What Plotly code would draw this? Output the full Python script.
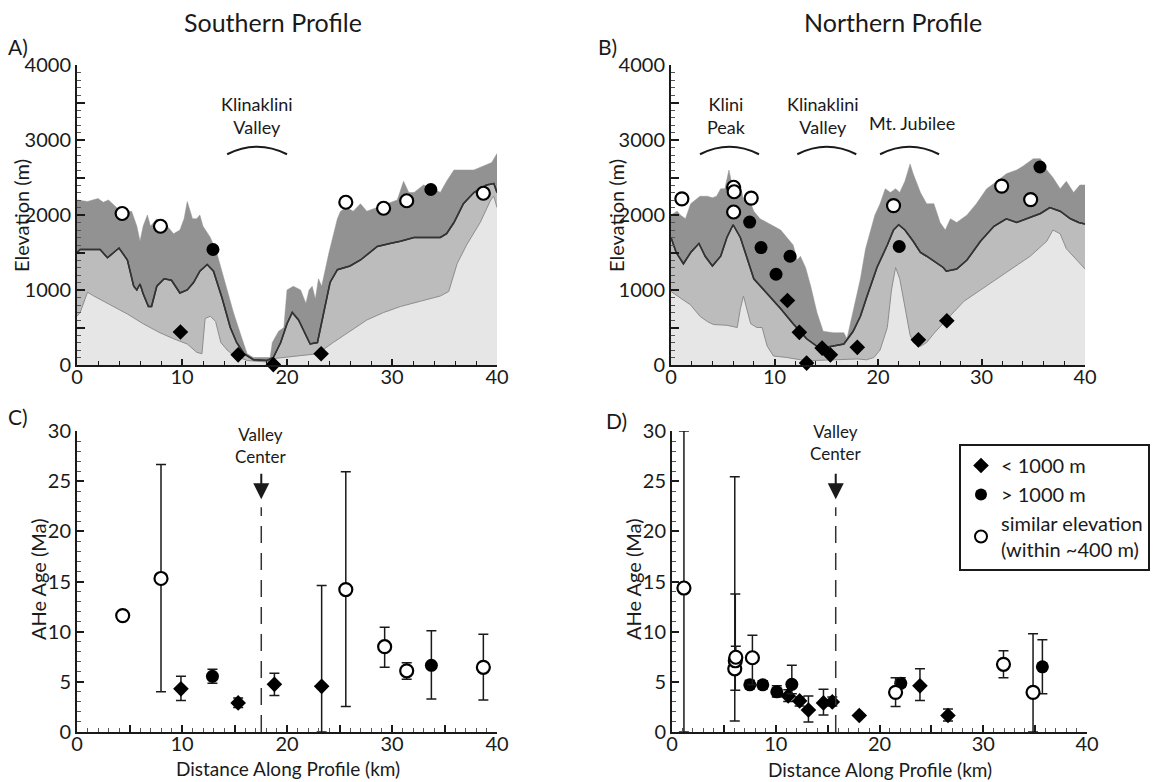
import plotly.graph_objects as go

W, H = 1168, 782
FONT = "Lato"
INK = "#1a1a1a"

# ---------------- Panel A (Southern profile) topography ----------------
A_max_x = [0, 1, 2, 2.5, 3, 3.6, 4.3, 5.2, 5.7, 6.0, 6.3, 6.7, 7.0, 7.6, 7.9, 8.6, 9.2, 9.8, 10.2, 10.5,
           11.0, 11.4, 11.7, 12.0, 12.7, 13.3, 14.3, 14.9, 15.6, 16.2, 16.8, 18.4, 18.6, 19.2, 19.7, 20.0,
           20.6, 21.3, 21.8, 22.1, 22.4, 22.7, 23.0, 23.3, 24.0, 24.8, 25.1, 25.7, 26.3, 27.0, 27.6, 28.6,
           29.5, 30.5, 31.1, 31.6, 32.1, 33.0, 34.0, 34.6, 35.2, 35.9, 37.8, 38.7, 39.5, 40]
A_max_y = [2200, 2180, 2220, 2170, 2200, 2120, 2030, 2050, 1850, 1650, 1850, 2000, 1850, 1950, 1800, 1850,
           1750, 1800, 1950, 2180, 1950, 1950, 2000, 1850, 1700, 1500, 1000, 700, 400, 150, 100, 100, 300,
           450, 500, 1000, 1050, 1000, 820, 1000, 1050, 880, 1150, 1050, 1500, 1950, 2050, 2100, 2050, 2150,
           2050, 2100, 2150, 2200, 2450, 2300, 2300, 2400, 2350, 2300, 2450, 2600, 2600, 2650, 2700, 2820]

A_mean_x = [0, 0.3, 2.2, 2.9, 3.5, 4.0, 4.8, 5.4, 5.7, 6.0, 6.3, 6.8, 7.1, 7.6, 8.3, 9.0, 9.8, 10.5, 11.1,
            11.7, 12.4, 13.0, 13.8, 14.6, 15.2, 15.9, 16.8, 18.1, 18.7, 19.4, 20.0, 20.5, 21.1, 21.8, 22.2,
            22.9, 23.5, 24.1, 24.8, 26.0, 27.0, 27.9, 28.6, 29.8, 30.8, 32.1, 33.3, 34.6, 35.2, 35.9, 36.8,
            37.8, 39.0, 39.7, 40]
A_mean_y = [1500, 1540, 1540, 1430, 1500, 1560, 1400, 1050, 1000, 1080, 950, 780, 780, 1050, 1150, 1130,
            960, 1000, 1100, 1250, 1340, 1250, 900, 500, 300, 150, 70, 60, 100, 300, 550, 700, 600, 400, 280,
            300, 700, 1100, 1270, 1320, 1400, 1500, 1580, 1620, 1650, 1700, 1700, 1700, 1750, 1900, 2150,
            2300, 2400, 2420, 2300]

A_min_x = [0, 0.3, 1.0, 1.6, 3.2, 4.8, 6.3, 7.9, 9.2, 10.5, 11.4, 11.9, 12.2, 12.7, 13.2, 13.7, 14.3, 14.9,
           16.2, 18.1, 19.0, 19.7, 21.3, 22.9, 24.4, 26.0, 27.6, 29.2, 30.8, 32.7, 34.6, 35.4, 36.2, 37.1,
           38.4, 39.4, 39.7, 40]
A_min_y = [650, 700, 970, 920, 800, 680, 550, 430, 350, 280, 170, 150, 620, 650, 580, 300, 200, 130, 60,
           40, 90, 100, 120, 150, 300, 450, 600, 700, 780, 850, 920, 980, 1350, 1600, 1900, 2200, 2250, 2100]

A_open_x = [4.3, 7.95, 25.6, 29.2, 31.4, 38.7]
A_open_y = [2020, 1850, 2170, 2090, 2190, 2290]
A_fill_x = [12.95, 33.7]
A_fill_y = [1540, 2340]
A_dia_x = [9.85, 15.35, 18.7, 23.25]
A_dia_y = [440, 135, 5, 150]

# ---------------- Panel B (Northern profile) topography ----------------
B_max_x = [0, 0.6, 0.9, 1.4, 1.9, 2.4, 2.8, 3.5, 4.0, 4.4, 4.8, 5.2, 5.6, 5.9, 6.4, 6.7, 7.0, 7.3, 7.7, 8.0,
           8.6, 9.3, 9.9, 10.6, 11.2, 11.8, 12.2, 12.5, 13.0, 13.5, 14.1, 14.7, 15.7, 16.7, 17.0, 17.6, 18.3,
           18.8, 19.2, 19.7, 20.2, 20.7, 21.2, 21.7, 22.1, 22.6, 23.1, 23.4, 24.1, 24.7, 25.4, 26.0, 26.5,
           27.0, 27.6, 28.6, 29.5, 30.5, 31.5, 32.4, 33.4, 34.0, 35.0, 35.7, 36.3, 36.9, 37.6, 38.2, 38.9,
           39.5, 40]
B_max_y = [2000, 2050, 2000, 1950, 2150, 2200, 2250, 2250, 2230, 2250, 2350, 2350, 2600, 2400, 2300, 2400,
           2200, 2300, 2150, 2050, 1950, 1900, 1850, 1800, 1700, 1600, 1400, 1450, 1300, 1050, 700, 450, 430,
           430, 350, 700, 1150, 1550, 1750, 2000, 2150, 2350, 2300, 2350, 2300, 2450, 2680, 2550, 2300, 2150,
           2150, 1900, 1800, 1950, 1900, 2000, 2150, 2350, 2450, 2550, 2600, 2650, 2750, 2750, 2600, 2500,
           2350, 2450, 2300, 2400, 2400]

B_mean_x = [0, 0.5, 1.2, 1.9, 2.7, 3.3, 4.0, 4.8, 5.4, 6.0, 6.7, 7.3, 8.0, 9.3, 10.6, 11.8, 13.1, 14.4, 15.7,
            16.7, 17.6, 18.3, 18.9, 19.9, 20.9, 21.5, 22.0, 22.6, 23.4, 24.1, 24.7, 25.4, 26.3, 26.6, 27.6,
            28.6, 29.9, 31.2, 32.4, 33.4, 34.4, 35.7, 36.6, 37.6, 38.6, 39.4, 40]
B_mean_y = [1700, 1500, 1350, 1500, 1620, 1450, 1320, 1450, 1700, 1870, 1700, 1450, 1150, 950, 750, 550, 350,
            220, 250, 280, 450, 650, 900, 1300, 1600, 1800, 1870, 1800, 1650, 1500, 1450, 1380, 1300, 1250,
            1280, 1400, 1650, 1850, 1950, 1900, 1950, 2020, 2100, 2050, 1950, 1900, 1880]

B_min_x = [0, 0.9, 1.9, 2.8, 3.5, 4.1, 5.4, 6.4, 6.7, 7.0, 7.3, 7.7, 8.3, 8.8, 9.3, 9.9, 11.2, 12.5, 13.8,
           15.4, 17.0, 18.0, 18.9, 19.6, 20.2, 20.9, 21.3, 21.7, 22.1, 22.6, 23.1, 23.4, 24.1, 24.7, 25.4,
           26.6, 28.3, 29.9, 31.5, 33.1, 34.7, 36.3, 36.9, 37.6, 38.2, 39.2, 40]
B_min_y = [980, 900, 800, 650, 580, 540, 530, 500, 750, 920, 750, 550, 500, 500, 250, 120, 100, 70, 60, 70,
           70, 80, 70, 100, 200, 500, 1000, 1300, 1150, 800, 400, 300, 250, 300, 420, 600, 850, 1000, 1150,
           1300, 1450, 1650, 1800, 1750, 1550, 1400, 1280]

B_open_x = [1.05, 6.05, 6.1, 6.05, 7.75, 21.5, 31.95, 34.75]
B_open_y = [2215, 2370, 2310, 2040, 2225, 2125, 2385, 2205]
B_fill_x = [7.6, 8.7, 10.15, 11.5, 22.05, 35.65]
B_fill_y = [1905, 1565, 1210, 1450, 1580, 2640]
B_dia_x = [11.25, 12.4, 13.1, 14.6, 15.4, 18.0, 23.9, 26.65]
B_dia_y = [860, 435, 25, 225, 135, 235, 335, 590]

# ---------------- Panel C (Southern AHe ages) ----------------
C_open_x = [4.35, 8.0, 25.6, 29.3, 31.4, 38.7]
C_open_age = [11.6, 15.3, 14.2, 8.5, 6.1, 6.45]
C_open_lo = [11.6, 4.0, 2.55, 6.45, 5.25, 3.2]
C_open_hi = [11.6, 26.65, 25.95, 10.45, 6.9, 9.75]
C_fill_x = [12.9, 33.75]
C_fill_age = [5.55, 6.65]
C_fill_lo = [4.85, 3.3]
C_fill_hi = [6.25, 10.1]
C_dia_x = [9.9, 15.35, 18.8, 23.3]
C_dia_age = [4.3, 2.9, 4.75, 4.55]
C_dia_lo = [3.15, 2.45, 3.65, 0.0]
C_dia_hi = [5.55, 3.4, 5.85, 14.6]

# ---------------- Panel D (Northern AHe ages) ----------------
D_open_x = [1.15, 6.05, 6.1, 6.15, 7.75, 21.55, 31.95, 34.8]
D_open_age = [14.35, 6.3, 7.1, 7.45, 7.4, 3.95, 6.75, 3.95]
D_open_lo = [0.0, 1.1, 4.15, 6.5, 4.7, 2.55, 5.4, 0.0]
D_open_hi = [30.0, 25.45, 13.75, 8.55, 9.65, 5.4, 8.1, 9.8]
D_fill_x = [7.5, 8.75, 10.1, 11.55, 22.05, 35.7]
D_fill_age = [4.7, 4.7, 4.0, 4.75, 4.85, 6.5]
D_fill_lo = [4.3, 4.3, 3.5, 3.8, 4.45, 3.8]
D_fill_hi = [5.15, 5.1, 4.6, 6.65, 5.4, 9.2]
D_dia_x = [11.2, 12.3, 13.15, 14.6, 15.45, 18.05, 23.9, 26.6]
D_dia_age = [3.6, 3.1, 2.2, 2.9, 3.0, 1.65, 4.6, 1.65]
D_dia_lo = [3.05, 2.6, 1.0, 1.7, 2.6, 1.65, 3.15, 1.1]
D_dia_hi = [4.2, 3.5, 3.6, 4.25, 3.5, 1.65, 6.3, 2.3]

C_valley_x = 17.55
D_valley_x = 15.78

LEGEND_NAMES = ["< 1000 m", "> 1000 m", "similar elevation<br>(within ~400 m)"]

LIGHT, MID, DARK = "#e6e6e6", "#bcbcbc", "#929292"

fig = go.Figure()


def px_x(p):
    return p / W


def px_y(p):
    return 1 - p / H


def topo(xa, ya, mnx, mny, mex, mey, mxx, mxy):
    fig.add_trace(go.Scatter(x=mnx, y=mny, mode="lines", fill="tozeroy", fillcolor=LIGHT,
                             line=dict(color="#8c8c8c", width=1), xaxis=xa, yaxis=ya,
                             showlegend=False, hoverinfo="skip"))
    fig.add_trace(go.Scatter(x=mex, y=mey, mode="lines", fill="tonexty", fillcolor=MID,
                             line=dict(color="#333333", width=1.5), xaxis=xa, yaxis=ya,
                             showlegend=False, hoverinfo="skip"))
    fig.add_trace(go.Scatter(x=mxx, y=mxy, mode="lines", fill="tonexty", fillcolor=DARK,
                             line=dict(color=DARK, width=0.5), xaxis=xa, yaxis=ya,
                             showlegend=False, hoverinfo="skip"))
    fig.add_trace(go.Scatter(x=mex, y=mey, mode="lines",
                             line=dict(color="#333333", width=1.5), xaxis=xa, yaxis=ya,
                             showlegend=False, hoverinfo="skip"))


def markers(xa, ya, dx, dy, fx, fy, ox, oy):
    fig.add_trace(go.Scatter(x=dx, y=dy, mode="markers", xaxis=xa, yaxis=ya, showlegend=False,
                             marker=dict(symbol="diamond", size=12, color="black"), cliponaxis=False))
    fig.add_trace(go.Scatter(x=fx, y=fy, mode="markers", xaxis=xa, yaxis=ya, showlegend=False,
                             marker=dict(symbol="circle", size=13, color="black"), cliponaxis=False))
    fig.add_trace(go.Scatter(x=ox, y=oy, mode="markers", xaxis=xa, yaxis=ya, showlegend=False,
                             marker=dict(symbol="circle", size=13, color="white",
                                         line=dict(color="black", width=2.2)), cliponaxis=False))


def ages(xa, ya, sets, legend):
    for i, (x, a, lo, hi, sym, col, lw) in enumerate(sets):
        fig.add_trace(go.Scatter(
            x=x, y=a, mode="markers", xaxis=xa, yaxis=ya, name=LEGEND_NAMES[i], showlegend=legend,
            cliponaxis=False,
            error_y=dict(type="data", symmetric=False,
                         array=[h - v for h, v in zip(hi, a)],
                         arrayminus=[v - l for v, l in zip(a, lo)],
                         color=INK, thickness=1.5, width=5),
            marker=dict(symbol=sym, size=12 if sym == "diamond" else 13, color=col,
                        line=dict(color="black", width=lw))))


topo("x", "y", A_min_x, A_min_y, A_mean_x, A_mean_y, A_max_x, A_max_y)
markers("x", "y", A_dia_x, A_dia_y, A_fill_x, A_fill_y, A_open_x, A_open_y)
topo("x2", "y2", B_min_x, B_min_y, B_mean_x, B_mean_y, B_max_x, B_max_y)
markers("x2", "y2", B_dia_x, B_dia_y, B_fill_x, B_fill_y, B_open_x, B_open_y)

ages("x3", "y3", [
    (C_dia_x, C_dia_age, C_dia_lo, C_dia_hi, "diamond", "black", 0),
    (C_fill_x, C_fill_age, C_fill_lo, C_fill_hi, "circle", "black", 0),
    (C_open_x, C_open_age, C_open_lo, C_open_hi, "circle", "white", 2.2),
], False)
ages("x4", "y4", [
    (D_dia_x, D_dia_age, D_dia_lo, D_dia_hi, "diamond", "black", 0),
    (D_fill_x, D_fill_age, D_fill_lo, D_fill_hi, "circle", "black", 0),
    (D_open_x, D_open_age, D_open_lo, D_open_hi, "circle", "white", 2.2),
], True)

axis_common = dict(showline=True, linecolor=INK, linewidth=2, ticks="inside", ticklen=7, tickwidth=1.5,
                   tickcolor=INK, showgrid=False, zeroline=False, mirror=False, automargin=False,
                   tickfont=dict(family=FONT, size=20, color=INK))

elev_ticks = list(range(0, 4001, 500))
elev_text = [str(v) if v % 1000 == 0 else "" for v in elev_ticks]
dist_ticks = list(range(0, 41, 5))
dist_text = [str(v) if v % 10 == 0 else "" for v in dist_ticks]

dom_top_x = [(px_x(77), px_x(497)), (px_x(671), px_x(1085))]
dom_bot_x = [(px_x(77), px_x(497)), (px_x(672), px_x(1087))]
dom_top_y = (px_y(365), px_y(65))
dom_bot_y = (px_y(732), px_y(431))

layout_axes = {}
for i, key in enumerate(["", "2"]):
    layout_axes["xaxis" + key] = dict(axis_common, domain=dom_top_x[i], range=[0, 40], anchor="y" + key,
                                      tickmode="array", tickvals=[0, 10, 20, 30, 40], ticklen=6,
                                      ticklabelstandoff=-7,
                                      minor=dict(dtick=2, tick0=0, ticklen=4, ticks="inside", tickcolor=INK,
                                                 tickwidth=1))
    layout_axes["yaxis" + key] = dict(axis_common, domain=dom_top_y, range=[0, 4000], anchor="x" + key,
                                      tickmode="array", tickvals=elev_ticks, ticktext=elev_text, ticklen=8,
                                      minor=dict(dtick=100, tick0=0, ticklen=4, ticks="inside",
                                                 tickcolor="#555555", tickwidth=1))
for i, key in enumerate(["3", "4"]):
    layout_axes["xaxis" + key] = dict(axis_common, domain=dom_bot_x[i], range=[0, 40], anchor="y" + key,
                                      tickmode="array", tickvals=dist_ticks, ticktext=dist_text, ticklen=7,
                                      ticklabelstandoff=-7,
                                      minor=dict(dtick=1, tick0=0, ticklen=4, ticks="inside",
                                                 tickcolor="#555555", tickwidth=1))
    layout_axes["yaxis" + key] = dict(axis_common, domain=dom_bot_y, range=[0, 30], anchor="x" + key,
                                      tickmode="array", tickvals=list(range(0, 31, 5)), ticklen=7,
                                      minor=dict(dtick=1, tick0=0, ticklen=4, ticks="inside",
                                                 tickcolor="#555555", tickwidth=1))

annotations = []


def paper_text(text, x, y, size, angle=0, xanchor="center"):
    annotations.append(dict(text=text, x=px_x(x), y=px_y(y), xref="paper", yref="paper", showarrow=False,
                            xanchor=xanchor, yanchor="middle", textangle=angle,
                            font=dict(family=FONT, size=size, color=INK)))


paper_text("Southern Profile", 273, 22, 25)
paper_text("Northern Profile", 893, 22, 25)
paper_text("A)", 6, 46, 21, xanchor="left")
paper_text("B)", 596, 46, 21, xanchor="left")
paper_text("C)", 6, 416, 21, xanchor="left")
paper_text("D)", 604, 420, 21, xanchor="left")
paper_text("Elevation (m)", 21, 216, 20, angle=-90)
paper_text("Elevation (m)", 616, 216, 20, angle=-90)
paper_text("AHe Age (Ma)", 38, 579, 20, angle=-90)
paper_text("AHe Age (Ma)", 633, 579, 20, angle=-90)
paper_text("Distance Along Profile (km)", 288, 768, 19)
paper_text("Distance Along Profile (km)", 880, 769, 19)


def data_text(text, x, y, xa, ya, size=18):
    annotations.append(dict(text=text, x=x, y=y, xref=xa, yref=ya, showarrow=False, xanchor="center",
                            yanchor="middle", font=dict(family=FONT, size=size, color=INK)))


# feature labels + arcs
features = [
    ("x", "y", "Klinaklini<br>Valley", 17.15, 3330, 14.3, 20.0),
    ("x2", "y2", "Klini<br>Peak", 5.4, 3330, 2.8, 8.5),
    ("x2", "y2", "Klinaklini<br>Valley", 14.7, 3330, 12.2, 17.9),
    ("x2", "y2", "Mt. Jubilee", 23.3, 3225, 20.2, 25.9),
]
shapes = []
for xa, ya, txt, tx, ty, a0, a1 in features:
    data_text(txt, tx, ty, xa, ya)
    mid = (a0 + a1) / 2
    shapes.append(dict(type="path", xref=xa, yref=ya,
                       path=f"M {a0},2810 Q {mid},3010 {a1},2810",
                       line=dict(color=INK, width=2)))

# valley center markers
for xa, ya, vx, ty in [("x3", "y3", C_valley_x, 28.6), ("x4", "y4", D_valley_x, 28.85)]:
    data_text("Valley<br>Center", vx, ty, xa, ya, size=17)
    annotations.append(dict(x=vx, y=23.2, xref=xa, yref=ya, text="", showarrow=True, ax=0, ay=-27,
                            arrowhead=2, arrowsize=1.6, arrowwidth=2, arrowcolor=INK))
    shapes.append(dict(type="line", xref=xa, yref=ya, x0=vx, x1=vx, y0=0, y1=22.4,
                       line=dict(color="#333333", width=1.5, dash="17px,10px")))

fig.update_layout(
    width=W, height=H, margin=dict(l=0, r=0, t=0, b=0, autoexpand=False),
    paper_bgcolor="white", plot_bgcolor="rgba(0,0,0,0)",
    font=dict(family=FONT, color=INK),
    annotations=annotations, shapes=shapes,
    legend=dict(x=px_x(959), y=px_y(444), xanchor="left", yanchor="top", bgcolor="white",
                bordercolor=INK, borderwidth=2, font=dict(family=FONT, size=20, color=INK),
                tracegroupgap=0, itemsizing="constant", traceorder="normal"),
    **layout_axes,
)

fig.write_html("out.html")
